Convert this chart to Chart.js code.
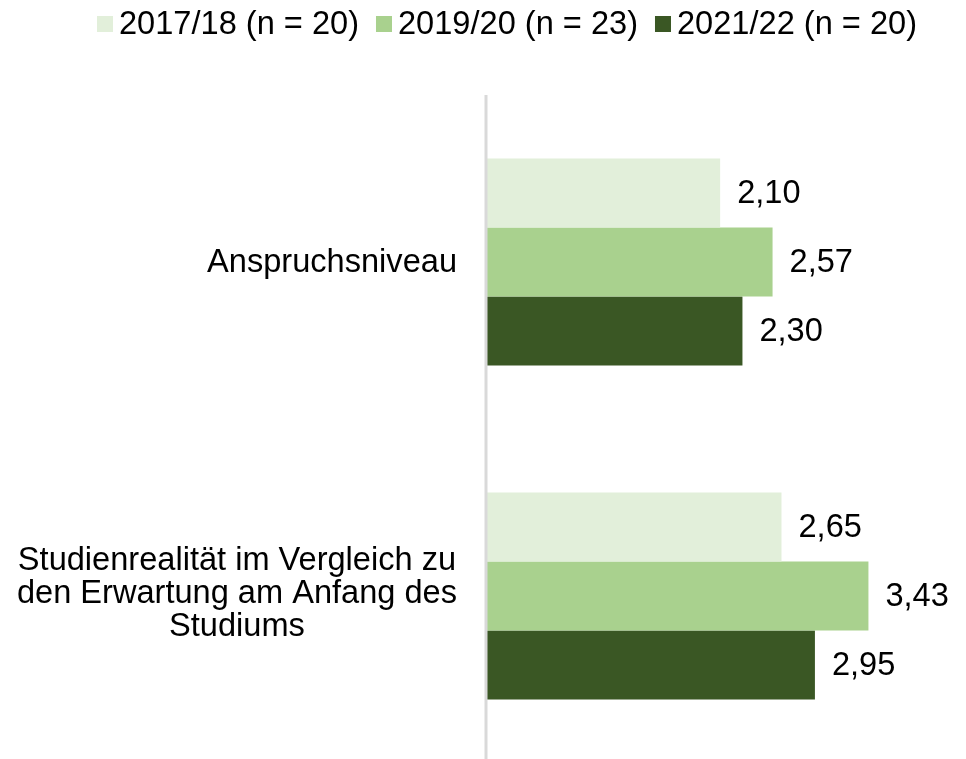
<!DOCTYPE html>
<html>
<head>
<meta charset="utf-8">
<script src="https://cdn.jsdelivr.net/npm/chart.js@4/dist/chart.umd.min.js"></script>
<style>
  html, body { margin: 0; padding: 0; background: #fff; overflow: hidden; }
  #wrap { width: 966px; height: 767px; }
</style>
</head>
<body>
<div id="wrap"><canvas id="ratingChart"></canvas></div>
<script>
// data
let categories = [
  ["Anspruchsniveau"],
  ["Studienrealität im Vergleich zu", "den Erwartung am Anfang des", "Studiums"]
];
let seriesNames = ["2017/18 (n = 20)", "2019/20 (n = 23)", "2021/22 (n = 20)"];
let values1718 = [2.10, 2.65];
let values1920 = [2.57, 3.43];
let values2122 = [2.30, 2.95];

let colors = ["#e2efda", "#a9d18e", "#3a5724"];
let fontFamily = "'Liberation Sans', Arial, sans-serif";
let fontSize = 32.6;

function fmt(v) {
  return v.toFixed(2).replace('.', ',');
}

// legend drawn along the top, Excel style
let topLegend = {
  id: 'topLegend',
  afterDraw(chart) {
    let c = chart.ctx;
    c.save();
    c.font = fontSize + 'px ' + fontFamily;
    c.textBaseline = 'middle';
    c.textAlign = 'left';
    let x = 97;
    let y = 24;
    chart.data.datasets.forEach(function(ds) {
      c.fillStyle = ds.backgroundColor;
      c.fillRect(x, y - 8, 16, 16);
      c.fillStyle = '#000';
      c.fillText(ds.label, x + 22, y + 1);
      x += 22 + c.measureText(ds.label).width + 17;
    });
    c.restore();
  }
};

// category labels: block right aligned, lines centred within it
let catLabels = {
  id: 'catLabels',
  afterDraw(chart) {
    let c = chart.ctx;
    let yScale = chart.scales.y;
    let xScale = chart.scales.x;
    let right = xScale.getPixelForValue(0) - 29;
    c.save();
    c.font = fontSize + 'px ' + fontFamily;
    c.fillStyle = '#000';
    c.textBaseline = 'middle';
    c.textAlign = 'center';
    let lh = 33;
    categories.forEach(function(lines, i) {
      let w = Math.max.apply(null, lines.map(function(l) { return c.measureText(l).width; }));
      let cx = right - w / 2;
      let cy = yScale.getPixelForValue(i) - (lines.length - 1) * lh / 2 + (lines.length > 1 ? -3 : 0);
      lines.forEach(function(l, j) {
        c.fillText(l, cx, cy + j * lh + 1);
      });
    });
    c.restore();
  }
};

// value labels next to each bar + the grey zero line
let valueLabels = {
  id: 'valueLabels',
  afterDatasetsDraw(chart) {
    let c = chart.ctx;
    let area = chart.chartArea;
    let x0 = chart.scales.x.getPixelForValue(0);
    c.save();
    c.strokeStyle = '#d9d9d9';
    c.lineWidth = 3;
    c.beginPath();
    c.moveTo(x0, area.top);
    c.lineTo(x0, area.bottom);
    c.stroke();

    c.font = fontSize + 'px ' + fontFamily;
    c.fillStyle = '#000';
    c.textBaseline = 'middle';
    c.textAlign = 'left';
    chart.data.datasets.forEach(function(ds, di) {
      let meta = chart.getDatasetMeta(di);
      meta.data.forEach(function(bar, i) {
        c.fillText(fmt(ds.data[i]), bar.x + 17, bar.y + 1);
      });
    });
    c.restore();
  }
};

let ctx = document.getElementById('ratingChart').getContext('2d');

let ratingChart = new Chart(ctx, {
  type: 'bar',
  data: {
    labels: categories,
    datasets: [
      { label: seriesNames[0], data: values1718, backgroundColor: colors[0] },
      { label: seriesNames[1], data: values1920, backgroundColor: colors[1] },
      { label: seriesNames[2], data: values2122, backgroundColor: colors[2] }
    ]
  },
  options: {
    indexAxis: 'y',
    responsive: true,
    maintainAspectRatio: false,
    animation: false,
    layout: {
      padding: { left: 486, right: 34, top: 95, bottom: 4 }
    },
    datasets: {
      bar: {
        barPercentage: 1,
        categoryPercentage: 0.62,
        borderWidth: 0
      }
    },
    scales: {
      x: { display: false, min: 0, max: 4 },
      y: { display: false }
    },
    plugins: {
      legend: { display: false },
      tooltip: { enabled: false }
    }
  },
  plugins: [valueLabels, catLabels, topLegend]
});
</script>
</body>
</html>
